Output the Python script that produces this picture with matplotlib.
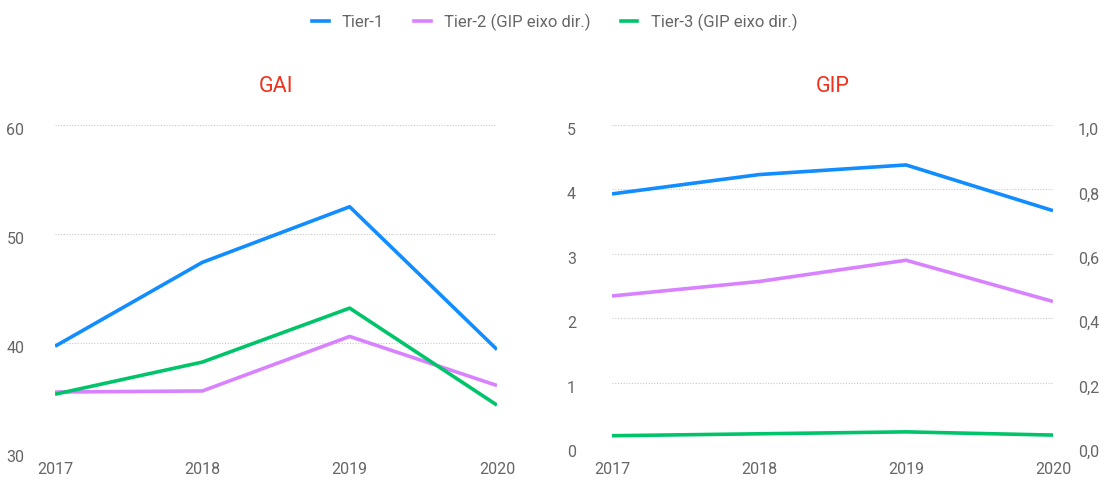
import matplotlib
matplotlib.use("Agg")
import matplotlib.pyplot as plt
from matplotlib.ticker import FuncFormatter
from matplotlib.transforms import ScaledTranslation
from matplotlib.lines import Line2D

plt.rcParams['font.family'] = ['Roboto', 'DejaVu Sans']

years = [2017, 2018, 2019, 2020]
series_names = ["Tier-1", "Tier-2 (GIP eixo dir.)", "Tier-3 (GIP eixo dir.)"]

gai_tier1 = [39.7, 47.4, 52.5, 39.4]
gai_tier2 = [35.5, 35.6, 40.6, 36.1]
gai_tier3 = [35.3, 38.25, 43.2, 34.3]

gip_tier1 = [3.93, 4.23, 4.38, 3.67]          # left axis
gip_tier2 = [0.469, 0.514, 0.580, 0.452]      # right axis
gip_tier3 = [0.035, 0.041, 0.047, 0.037]      # right axis

gai_yticks = [30, 40, 50, 60]
gip_yticks = [0, 1, 2, 3, 4, 5]
gip_right_ticks = [0.0, 0.2, 0.4, 0.6, 0.8, 1.0]

c1, c2, c3 = "#118DFF", "#D982FF", "#00C46A"
title_color = "#F2311D"
tick_color = "#666666"
grid_color = "#C8C8C8"
lw = 2.6
W, H = 1109, 486

fig = plt.figure(figsize=(W/100, H/100), dpi=100)

def style(ax):
    for s in ax.spines.values():
        s.set_visible(False)
    ax.tick_params(length=0, colors=tick_color, labelsize=11.5)
    ax.grid(axis='y', color=grid_color, linestyle=(0, (1, 1.5)), linewidth=0.8)
    ax.set_axisbelow(True)

def shift_ylabels(ax, dy_px=-3):
    off = ScaledTranslation(0, dy_px/100, fig.dpi_scale_trans)
    for lab in ax.get_yticklabels(which='major'):
        lab.set_transform(lab.get_transform() + off)

# Left: GAI
ax1 = fig.add_axes([55/W, 1-452/H, (497-55)/W, (452-125)/H])
style(ax1)
ax1.plot(years, gai_tier1, color=c1, lw=lw, solid_capstyle='butt')
ax1.plot(years, gai_tier2, color=c2, lw=lw, solid_capstyle='butt')
ax1.plot(years, gai_tier3, color=c3, lw=lw, solid_capstyle='butt')
ax1.set_xlim(2017, 2020)
ax1.set_ylim(30, 60)
ax1.set_yticks(gai_yticks)
ax1.set_xticks(years)
ax1.tick_params(axis='y', pad=22)
ax1.tick_params(axis='x', pad=7)
ax1.set_title("GAI", color=title_color, fontsize=15.5, pad=24)

# Right: GIP
ax2 = fig.add_axes([612/W, 1-447/H, (1053-612)/W, (447-125)/H])
style(ax2)
ax2.plot(years, gip_tier1, color=c1, lw=lw, solid_capstyle='butt')
ax2.set_xlim(2017, 2020)
ax2.set_ylim(0, 5)
ax2.set_yticks(gip_yticks)
ax2.set_xticks(years)
ax2.tick_params(axis='y', pad=26)
ax2.tick_params(axis='x', pad=11)
ax2.set_title("GIP", color=title_color, fontsize=15.5, pad=24)

ax3 = ax2.twinx()
for s in ax3.spines.values():
    s.set_visible(False)
ax3.tick_params(length=0, colors=tick_color, labelsize=11.5, pad=18)
ax3.plot(years, gip_tier2, color=c2, lw=lw, solid_capstyle='butt')
ax3.plot(years, gip_tier3, color=c3, lw=lw, solid_capstyle='butt')
ax3.set_ylim(0, 1.0)
ax3.set_yticks(gip_right_ticks)
ax3.yaxis.set_major_formatter(FuncFormatter(lambda v, p: f"{v:.1f}".replace(".", ",")))

for ax in (ax1, ax2, ax3):
    shift_ylabels(ax, -4)

handles = [Line2D([], [], color=c, lw=2.6) for c in (c1, c2, c3)]
fig.legend(handles, series_names, loc='center', bbox_to_anchor=(0.5, 1-22/H),
           ncol=3, frameon=False, fontsize=12, handlelength=1.0, handletextpad=0.8,
           columnspacing=1.8, labelcolor=tick_color)

fig.savefig("out.png", dpi=100)
